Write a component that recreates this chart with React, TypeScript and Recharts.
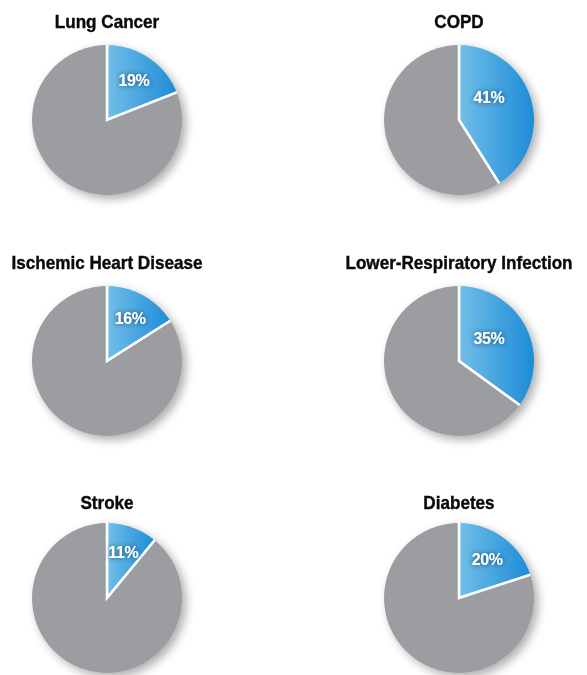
import { PieChart, Pie, Cell } from 'recharts';

// causes of death and the share attributable to the risk factor (%)
const causes = [
  'Lung Cancer',
  'COPD',
  'Ischemic Heart Disease',
  'Lower-Respiratory Infection',
  'Stroke',
  'Diabetes',
];
const shares = [19, 41, 16, 35, 11, 20];

// grid layout: two columns, three rows
const COL_X = [107, 459];
const PIE_Y = [120, 361, 598];
const TITLE_Y = [22, 263, 503];
const RADIUS = 75;
const BOX = 200;

const GRAY = '#9c9da1';
const FONT = "'Liberation Sans', Arial, sans-serif";

function renderShareLabel(props: any) {
  const { cx, cy, midAngle, index, value } = props;
  if (index !== 0) return null;
  const rad = (midAngle * Math.PI) / 180;
  const r = RADIUS * 0.64;
  const dx = Math.min(r * Math.cos(rad), 30);
  const dy = Math.max(r * Math.sin(rad), 23);
  return (
    <text
      x={cx + dx}
      y={cy - dy}
      fill="#fff"
      textAnchor="middle"
      dominantBaseline="central"
      fontFamily={FONT}
      fontWeight="bold"
      fontSize={16}
      letterSpacing={-0.4}
      filter="url(#labelGlow)"
    >
      {`${value}%`}
    </text>
  );
}

function SharePie({ title, share, idx }: { title: string; share: number; idx: number }) {
  const data = [
    { name: 'share', value: share },
    { name: 'other', value: 100 - share },
  ];
  const col = idx % 2;
  const row = Math.floor(idx / 2);
  const gradId = `blueFill${idx}`;
  return (
    <>
      <div
        style={{
          position: 'absolute',
          left: COL_X[col] - 150,
          top: TITLE_Y[row] - 11,
          width: 300,
          lineHeight: '22px',
          textAlign: 'center',
          fontFamily: FONT,
          fontWeight: 'bold',
          fontSize: 19,
          color: '#0a0a0a',
          WebkitTextStroke: '0.4px #0a0a0a',
          transform: 'scaleX(0.9)',
        }}
      >
        {title}
      </div>
      <div
        className="pie-box"
        style={{
          position: 'absolute',
          left: COL_X[col] - BOX / 2,
          top: PIE_Y[row] - BOX / 2,
          filter: 'drop-shadow(4px 4px 5px rgba(0,0,0,0.32))',
        }}
      >
        <PieChart width={BOX} height={BOX} margin={{ top: 0, right: 0, bottom: 0, left: 0 }}>
          <defs>
            <linearGradient id={gradId} x1="0" y1="0" x2="1" y2="0">
              <stop offset="0%" stopColor="#72bee9" />
              <stop offset="100%" stopColor="#1a8bd6" />
            </linearGradient>
            <filter id="labelGlow" x="-40%" y="-60%" width="180%" height="220%">
              <feGaussianBlur in="SourceAlpha" stdDeviation="2.5" result="blur" />
              <feFlood floodColor="#0b2a45" floodOpacity="0.8" />
              <feComposite in2="blur" operator="in" result="shadow" />
              <feMerge>
                <feMergeNode in="shadow" />
                <feMergeNode in="SourceGraphic" />
              </feMerge>
            </filter>
          </defs>
          {/* radius is a touch larger than the clip so the white outline only shows between slices */}
          <Pie
            data={data}
            dataKey="value"
            cx="50%"
            cy="50%"
            outerRadius={RADIUS + 1.5}
            startAngle={90}
            endAngle={-270}
            stroke="#fff"
            strokeWidth={2.5}
            label={renderShareLabel}
            labelLine={false}
            isAnimationActive={false}
          >
            <Cell fill={`url(#${gradId})`} />
            <Cell fill={GRAY} />
          </Pie>
        </PieChart>
      </div>
    </>
  );
}

export default function App() {
  return (
    <div style={{ position: 'relative', width: 587, height: 675, background: '#fff', overflow: 'hidden' }}>
      <style>
        {`body { margin: 0; }
          .pie-box svg.recharts-surface { clip-path: circle(${RADIUS}px at 50% 50%); }`}
      </style>
      {causes.map((c, i) => (
        <SharePie key={c} title={c} share={shares[i]} idx={i} />
      ))}
    </div>
  );
}
